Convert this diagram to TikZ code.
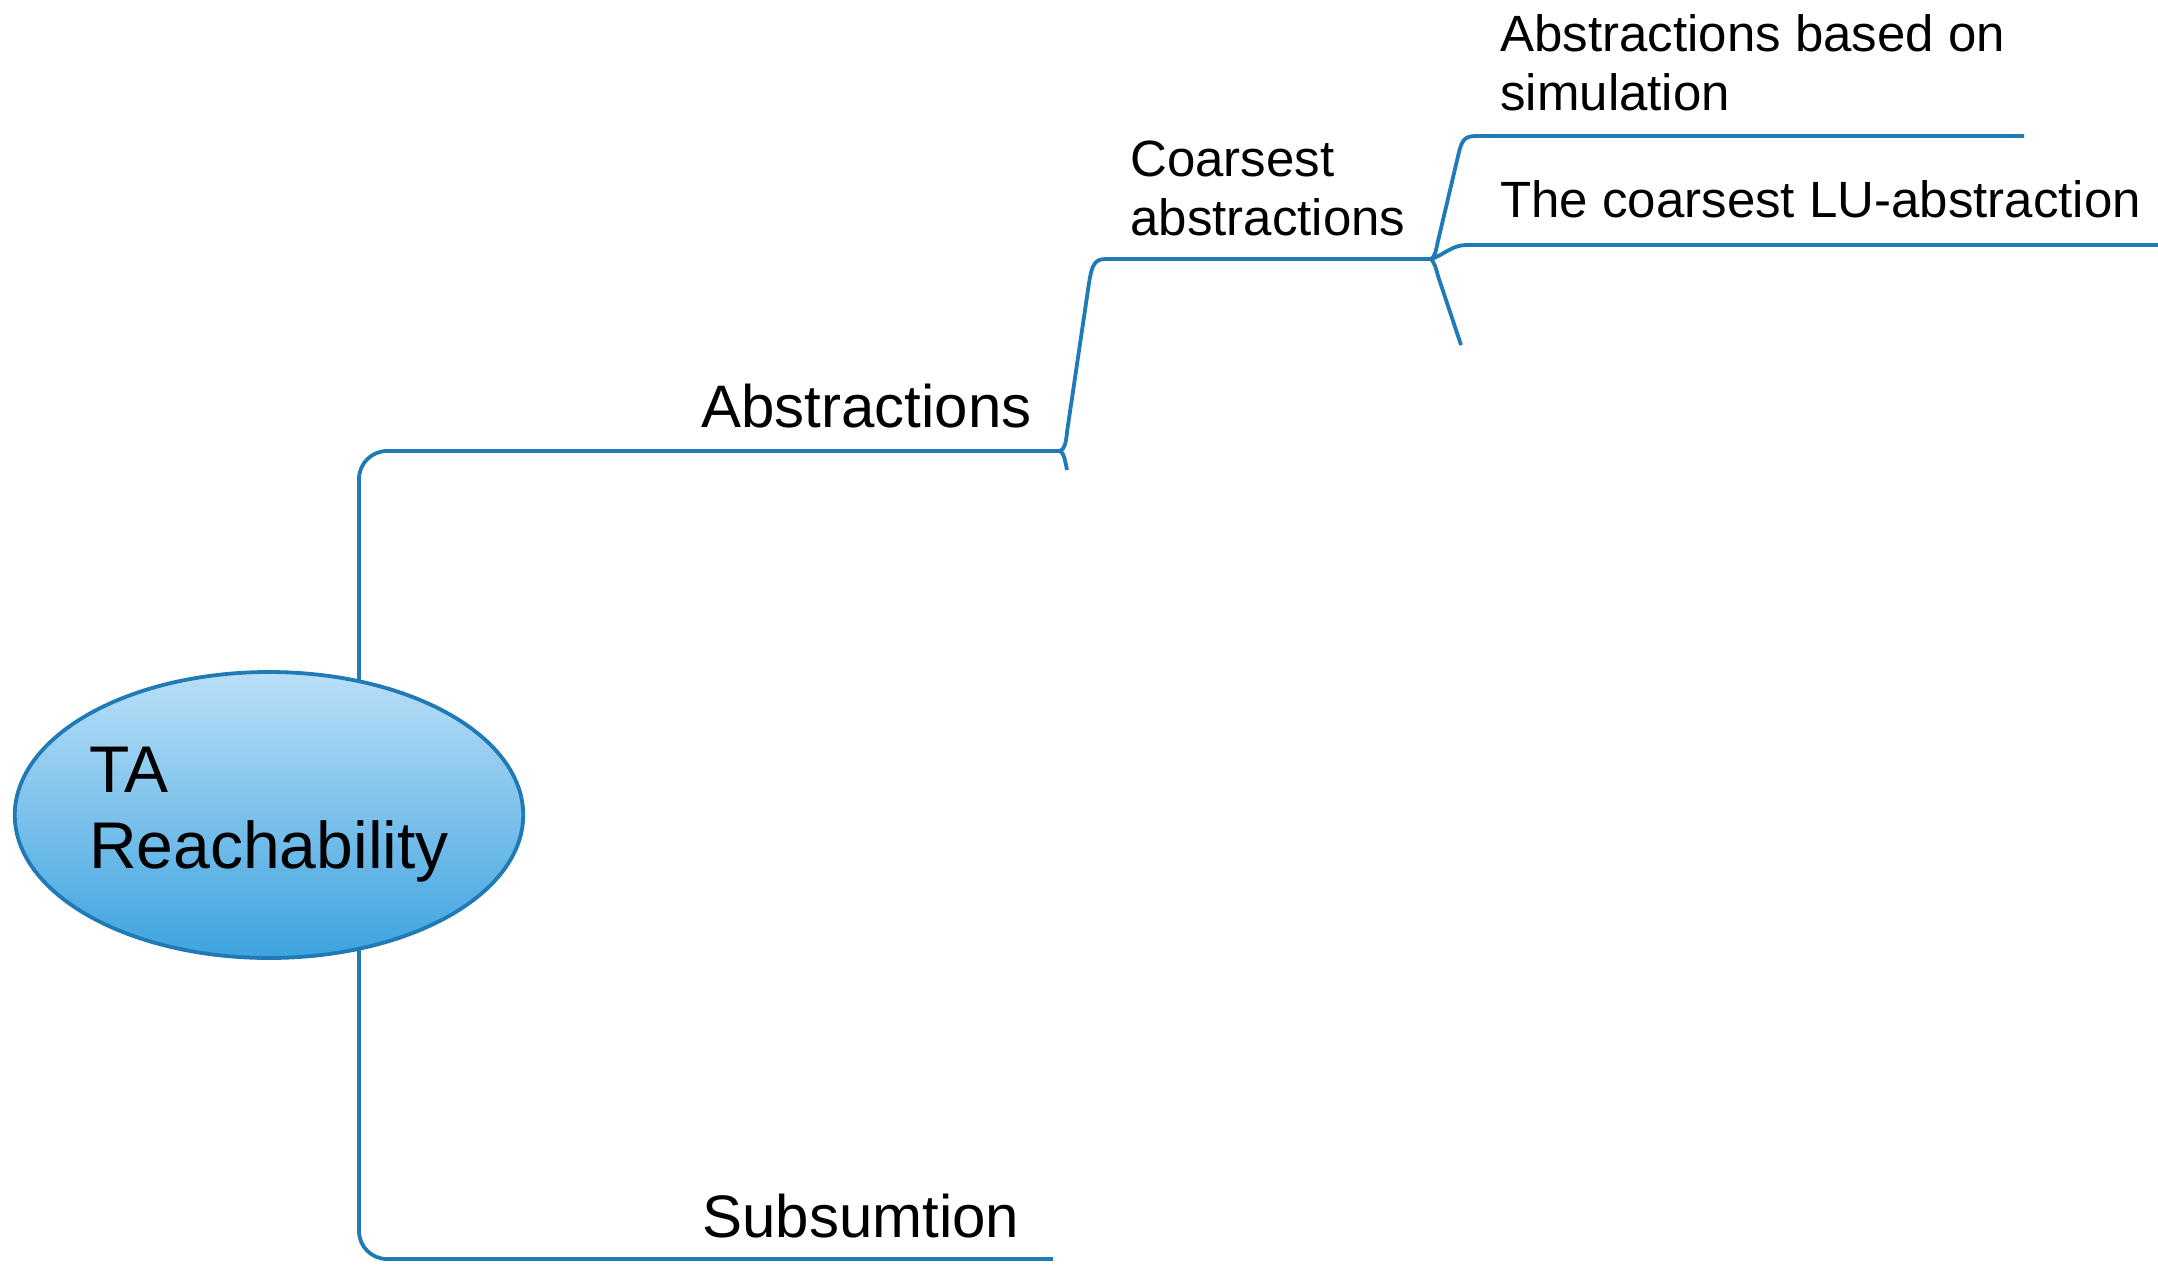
\documentclass[tikz,border=0pt]{standalone}
\usepackage{fontspec}
\setmainfont{Liberation Sans}
\usetikzlibrary{backgrounds,positioning,shapes.geometric}
\definecolor{astblau}{HTML}{1F7AB5}
\definecolor{hellblau}{HTML}{BADFF7}
\definecolor{dunkelblau}{HTML}{3DA3DF}

\begin{document}
\begin{tikzpicture}[x=0.5pt,y=-0.5pt,
    ast/.style={draw=astblau,line width=1.9pt},
    wurzel/.style={ellipse,draw=astblau,line width=1.9pt,
      top color=hellblau,bottom color=dunkelblau,
      minimum width=254pt,minimum height=143pt,inner sep=0pt,
      align=left,font=\fontsize{33pt}{38pt}\selectfont},
    ebeneeins/.style={anchor=base west,inner sep=0pt,font=\fontsize{30pt}{34pt}\selectfont},
    ebenezwei/.style={anchor=base west,inner sep=0pt,align=left,font=\fontsize{25.5pt}{29.3pt}\selectfont}]
\useasboundingbox (0,0) rectangle (2158,1264);
%Koordinaten in Pixeln des Bildes (2158 x 1264), y zeigt nach unten
%bei mehrzeiligen Knoten liegt "base" auf der letzten Zeile
%Wurzel der Mindmap
\node[wurzel] (root) at (269,815) {TA\\Reachability};
%Aeste erster Ebene
\node[ebeneeins] (abstr) at (701,427) {Abstractions};
\node[ebeneeins] (subs) at (702,1237) {Subsumtion};
%Aeste zweiter und dritter Ebene
\node[ebenezwei] (coarse) at (1130,235) {Coarsest\\abstractions};
\node[ebenezwei] (sim) at (1500,110) {Abstractions based on\\simulation};
\node[ebenezwei] (lu) at (1500,217) {The coarsest LU-abstraction};
%Knickpunkte der Aeste
\coordinate (stamm) at (359,815);
\coordinate (j1) at (1060,451);
\coordinate (j0) at (1053,1259);
\coordinate (j2) at (1431,259);
\coordinate (simend) at (2024,136);
\coordinate (luend) at (2158,245);
\begin{scope}[on background layer]
\draw[ast,rounded corners=14pt] (stamm) |- (j1);
\draw[ast,rounded corners=14pt] (stamm) |- (j0);
\end{scope}
%Abstractions -> Coarsest abstractions
\draw[ast] (j1) .. controls (1065,449) and (1066,442) .. (1067,432) -- (1089,283) .. controls (1092,264) and (1095,259) .. (1106,259) -- (j2);
\draw[ast] (j1) .. controls (1064,453) and (1065,460) .. (1067,470);
%Coarsest abstractions -> Blaetter
\draw[ast] (j2) .. controls (1435,257) and (1436,250) .. (1438,241) -- (1459,152) .. controls (1462,140) and (1465,136) .. (1476,136) -- (simend);
\draw[ast] (j2) .. controls (1442,256) and (1452,245) .. (1466,245) -- (luend);
\draw[ast] (j2) .. controls (1434,262) and (1436,268) .. (1438,276) -- (1461,345);
\end{tikzpicture}
\end{document}
